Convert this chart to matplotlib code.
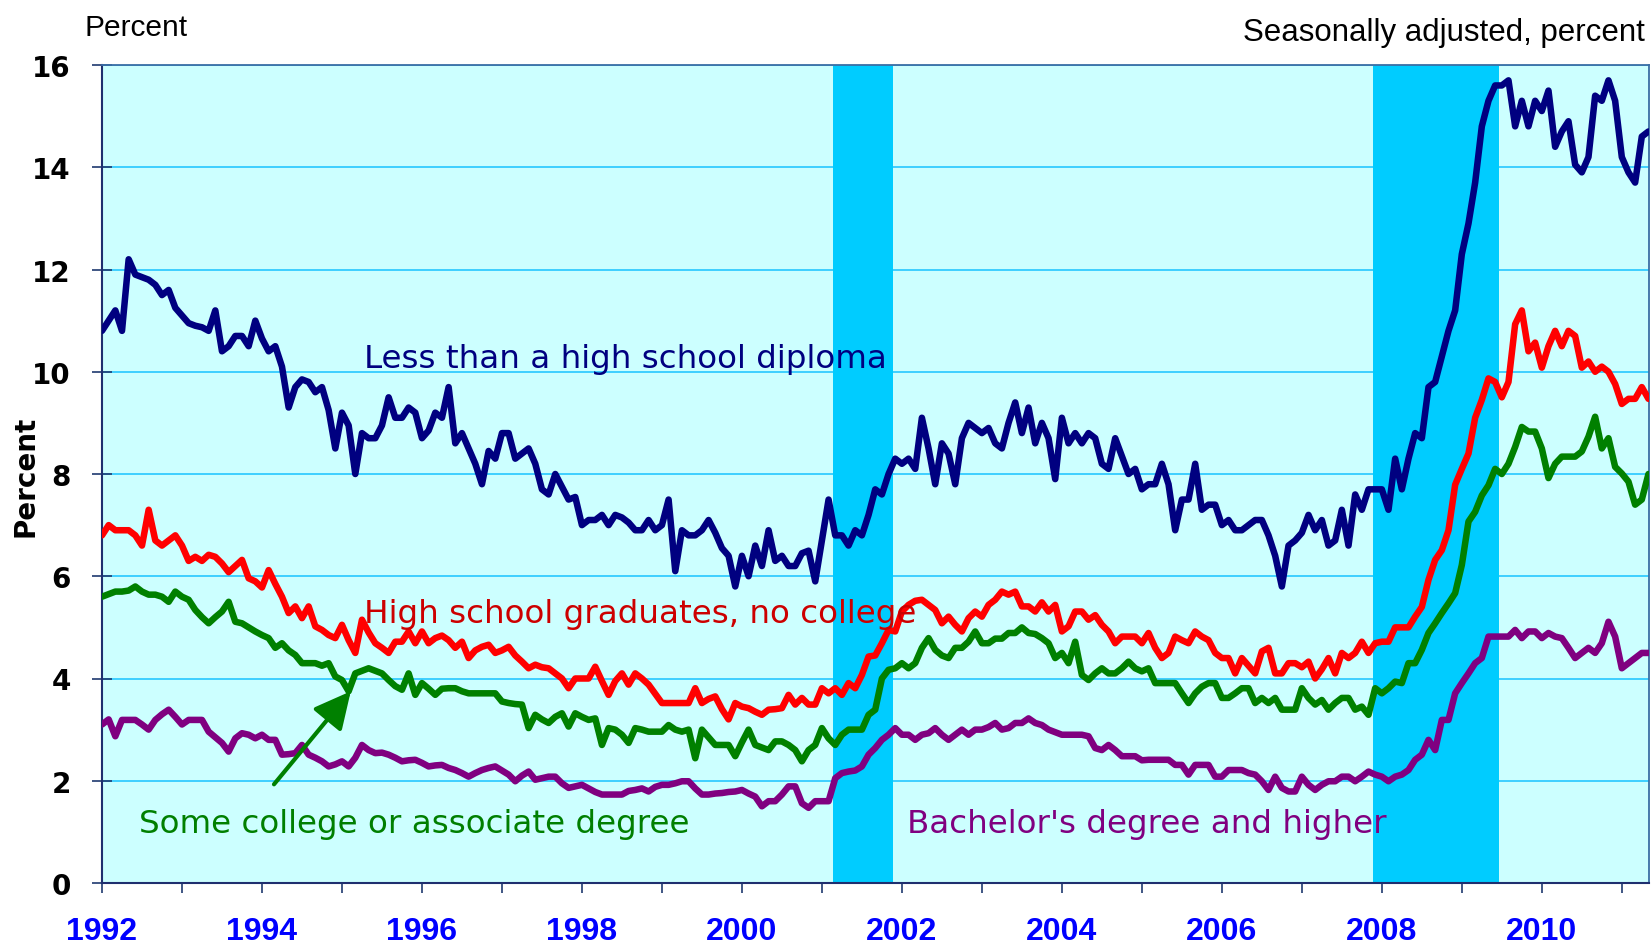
import numpy as np
import matplotlib
matplotlib.use("Agg")
import matplotlib.pyplot as plt

# ---------------- data (monthly, Jan 1992 - May 2011) ----------------
start_year = 1992
less_than_hs = [
    10.8, 11.0, 11.2, 10.8, 12.2, 11.9, 11.85, 11.8, 11.7, 11.5, 11.6, 11.25,
    11.1, 10.95, 10.9, 10.87, 10.8, 11.2, 10.4, 10.5, 10.7, 10.7, 10.5, 11.0,
    10.65, 10.4, 10.5, 10.1, 9.3, 9.7, 9.85, 9.8, 9.6, 9.7, 9.25, 8.5,
    9.2, 8.95, 8.0, 8.8, 8.7, 8.7, 8.95, 9.5, 9.1, 9.1, 9.3, 9.2,
    8.7, 8.85, 9.2, 9.1, 9.7, 8.6, 8.8, 8.5, 8.2, 7.8, 8.45, 8.3,
    8.8, 8.8, 8.3, 8.4, 8.5, 8.2, 7.7, 7.6, 8.0, 7.75, 7.5, 7.55,
    7.0, 7.1, 7.1, 7.2, 7.0, 7.2, 7.15, 7.05, 6.9, 6.9, 7.1, 6.9,
    7.0, 7.5, 6.1, 6.9, 6.8, 6.8, 6.9, 7.1, 6.85, 6.55, 6.4, 5.8,
    6.4, 6.0, 6.6, 6.2, 6.9, 6.3, 6.4, 6.2, 6.2, 6.45, 6.5, 5.9,
    6.7, 7.5, 6.8, 6.8, 6.6, 6.9, 6.8, 7.2, 7.7, 7.6, 8.0, 8.3,
    8.2, 8.3, 8.1, 9.1, 8.5, 7.8, 8.6, 8.4, 7.8, 8.7, 9.0, 8.9,
    8.8, 8.9, 8.6, 8.5, 9.0, 9.4, 8.8, 9.3, 8.6, 9.0, 8.7, 7.9,
    9.1, 8.6, 8.8, 8.6, 8.8, 8.7, 8.2, 8.1, 8.7, 8.35, 8.0, 8.1,
    7.7, 7.8, 7.8, 8.2, 7.8, 6.9, 7.5, 7.5, 8.2, 7.3, 7.4, 7.4,
    7.0, 7.1, 6.9, 6.9, 7.0, 7.1, 7.1, 6.8, 6.4, 5.8, 6.6, 6.7,
    6.85, 7.2, 6.9, 7.1, 6.6, 6.7, 7.3, 6.6, 7.6, 7.3, 7.7, 7.7,
    7.7, 7.3, 8.3, 7.7, 8.3, 8.8, 8.7, 9.7, 9.8, 10.3, 10.8, 11.2,
    12.3, 12.9, 13.7, 14.8, 15.3, 15.6, 15.6, 15.7, 14.8, 15.3, 14.8, 15.3,
    15.1, 15.5, 14.4, 14.7, 14.9, 14.05, 13.9, 14.2, 15.4, 15.3, 15.7, 15.3,
    14.2, 13.9, 13.7, 14.6, 14.7,
]
hs_grads = [
    6.8, 7.0, 6.9, 6.9, 6.9, 6.8, 6.6, 7.3, 6.7, 6.6, 6.7, 6.8,
    6.6, 6.3, 6.38, 6.3, 6.42, 6.38, 6.25, 6.08, 6.2, 6.32, 5.96, 5.9,
    5.78, 6.12, 5.85, 5.6, 5.28, 5.41, 5.18, 5.41, 5.02, 4.95, 4.85, 4.79,
    5.05, 4.75, 4.5, 5.15, 4.9, 4.69, 4.6, 4.5, 4.72, 4.72, 4.92, 4.69,
    4.92, 4.69, 4.79, 4.84, 4.75, 4.6, 4.72, 4.4, 4.55, 4.62, 4.66, 4.5,
    4.55, 4.62, 4.45, 4.33, 4.2, 4.27, 4.22, 4.2, 4.1, 4.0, 3.81, 4.0,
    4.0, 4.0, 4.23, 3.95, 3.68, 3.95, 4.1, 3.88, 4.1, 4.0, 3.88, 3.7,
    3.52, 3.52, 3.52, 3.52, 3.52, 3.81, 3.52, 3.6, 3.65, 3.4, 3.2, 3.52,
    3.45, 3.42, 3.35, 3.29, 3.39, 3.4, 3.42, 3.68, 3.49, 3.62, 3.49, 3.49,
    3.81, 3.71, 3.81, 3.68, 3.91, 3.81, 4.07, 4.43, 4.45, 4.69, 4.95, 4.92,
    5.31, 5.44, 5.52, 5.54, 5.44, 5.34, 5.08, 5.21, 5.05, 4.92, 5.18, 5.31,
    5.21, 5.44, 5.54, 5.7, 5.64, 5.7, 5.41, 5.41, 5.31, 5.49, 5.31, 5.44,
    4.92, 5.02, 5.31, 5.31, 5.15, 5.24, 5.05, 4.92, 4.69, 4.82, 4.82, 4.82,
    4.69, 4.89, 4.6, 4.4, 4.5, 4.82, 4.75, 4.69, 4.92, 4.82, 4.75, 4.5,
    4.4, 4.4, 4.1, 4.4, 4.25, 4.1, 4.53, 4.6, 4.1, 4.1, 4.3, 4.3,
    4.22, 4.33, 4.0, 4.18, 4.4, 4.1, 4.5, 4.4, 4.5, 4.72, 4.5, 4.69,
    4.72, 4.72, 5.0, 5.0, 5.0, 5.21, 5.4, 5.93, 6.32, 6.51, 6.9, 7.79,
    8.1, 8.4, 9.1, 9.45, 9.87, 9.8, 9.5, 9.8, 10.93, 11.2, 10.4, 10.57,
    10.08, 10.5, 10.8, 10.5, 10.8, 10.7, 10.08, 10.2, 10.0, 10.1, 10.0, 9.76,
    9.37, 9.47, 9.47, 9.7, 9.47,
]
some_college = [
    5.6, 5.65, 5.7, 5.7, 5.72, 5.8, 5.7, 5.64, 5.64, 5.6, 5.5, 5.7,
    5.6, 5.54, 5.34, 5.2, 5.08, 5.2, 5.31, 5.5, 5.11, 5.08, 5.0, 4.92,
    4.85, 4.79, 4.6, 4.69, 4.55, 4.46, 4.3, 4.3, 4.3, 4.25, 4.3, 4.04,
    3.97, 3.75, 4.1, 4.15, 4.2, 4.15, 4.1, 3.97, 3.85, 3.78, 4.1, 3.68,
    3.91, 3.8, 3.68, 3.8, 3.81, 3.81, 3.75, 3.71, 3.71, 3.71, 3.71, 3.71,
    3.55, 3.52, 3.5, 3.49, 3.03, 3.29, 3.2, 3.13, 3.25, 3.32, 3.06, 3.32,
    3.25, 3.19, 3.22, 2.7, 3.03, 3.0, 2.9, 2.74, 3.03, 3.0, 2.96, 2.96,
    2.96, 3.09, 3.0, 2.96, 3.0, 2.44, 3.0, 2.85, 2.7, 2.7, 2.7, 2.48,
    2.75, 3.0, 2.7, 2.65, 2.6, 2.77, 2.77, 2.7, 2.6, 2.38, 2.6, 2.7,
    3.03, 2.83, 2.7, 2.9, 3.0, 3.0, 3.0, 3.29, 3.39, 4.0, 4.17, 4.2,
    4.3, 4.2, 4.3, 4.6, 4.79, 4.56, 4.45, 4.4, 4.6, 4.6, 4.72, 4.92,
    4.69, 4.69, 4.78, 4.78, 4.89, 4.89, 5.0, 4.89, 4.87, 4.79, 4.69, 4.4,
    4.5, 4.3, 4.72, 4.07, 3.97, 4.1, 4.2, 4.1, 4.1, 4.2, 4.33, 4.2,
    4.14, 4.2, 3.91, 3.91, 3.91, 3.91, 3.71, 3.52, 3.71, 3.84, 3.91, 3.91,
    3.62, 3.62, 3.71, 3.81, 3.81, 3.52, 3.62, 3.52, 3.62, 3.39, 3.39, 3.39,
    3.81, 3.62, 3.49, 3.58, 3.39, 3.52, 3.62, 3.62, 3.39, 3.45, 3.29, 3.81,
    3.71, 3.81, 3.94, 3.91, 4.3, 4.3, 4.56, 4.89, 5.08, 5.28, 5.47, 5.67,
    6.22, 7.07, 7.26, 7.58, 7.78, 8.1, 8.0, 8.2, 8.53, 8.92, 8.83, 8.83,
    8.5, 7.92, 8.2, 8.34, 8.34, 8.34, 8.44, 8.73, 9.12, 8.5, 8.7, 8.14,
    8.01, 7.85, 7.4, 7.5, 8.0,
]
bachelors = [
    3.1, 3.2, 2.87, 3.19, 3.19, 3.19, 3.1, 3.0, 3.19, 3.3, 3.39, 3.25,
    3.1, 3.19, 3.19, 3.19, 2.96, 2.85, 2.74, 2.57, 2.83, 2.93, 2.9, 2.83,
    2.9, 2.8, 2.8, 2.51, 2.52, 2.54, 2.7, 2.51, 2.45, 2.38, 2.28, 2.32,
    2.38, 2.28, 2.45, 2.7, 2.6, 2.54, 2.55, 2.51, 2.45, 2.38, 2.4, 2.41,
    2.35, 2.28, 2.3, 2.31, 2.25, 2.21, 2.15, 2.08, 2.15, 2.21, 2.25, 2.28,
    2.2, 2.12, 1.99, 2.1, 2.18, 2.02, 2.05, 2.08, 2.08, 1.95, 1.86, 1.89,
    1.92, 1.85, 1.78, 1.73, 1.73, 1.73, 1.73, 1.8, 1.82, 1.85, 1.79, 1.88,
    1.92, 1.92, 1.95, 1.99, 1.99, 1.85, 1.73, 1.73, 1.75, 1.76, 1.78, 1.79,
    1.82, 1.75, 1.69, 1.5, 1.6, 1.6, 1.73, 1.89, 1.89, 1.56, 1.47, 1.6,
    1.6, 1.6, 2.05, 2.15, 2.18, 2.2, 2.28, 2.51, 2.64, 2.8, 2.9, 3.03,
    2.9, 2.9, 2.8, 2.9, 2.93, 3.03, 2.9, 2.8, 2.9, 3.0, 2.9, 3.0,
    3.0, 3.05, 3.13, 3.0, 3.03, 3.13, 3.13, 3.22, 3.13, 3.09, 3.0, 2.95,
    2.9, 2.9, 2.9, 2.9, 2.87, 2.64, 2.6, 2.7, 2.6, 2.48, 2.48, 2.48,
    2.4, 2.41, 2.41, 2.41, 2.41, 2.31, 2.31, 2.12, 2.31, 2.31, 2.31, 2.08,
    2.08, 2.21, 2.21, 2.21, 2.15, 2.12, 1.99, 1.82, 2.08, 1.86, 1.79, 1.79,
    2.08, 1.92, 1.82, 1.92, 1.99, 1.99, 2.08, 2.08, 1.99, 2.08, 2.18, 2.12,
    2.08, 1.99, 2.08, 2.12, 2.21, 2.41, 2.51, 2.8, 2.6, 3.19, 3.19, 3.71,
    3.91, 4.1, 4.3, 4.4, 4.82, 4.82, 4.82, 4.82, 4.95, 4.79, 4.92, 4.92,
    4.79, 4.89, 4.82, 4.79, 4.6, 4.4, 4.5, 4.6, 4.5, 4.69, 5.11, 4.82,
    4.2, 4.3, 4.4, 4.5, 4.5,
]
recessions = [(2001.14, 2001.89), (2007.89, 2009.47)]
series_labels = ["Less than a high school diploma", "High school graduates, no college",
                 "Some college or associate degree", "Bachelor's degree and higher"]
line_colors = ["#000080", "#FF0000", "#008000", "#800080"]
text_colors = ["#000080", "#CC0000", "#007F00", "#800080"]
label_pos = [(1995.27, 10.1), (1995.28, 5.1), (1992.46, 1.0), (2002.07, 1.0)]
year_ticks = list(range(1992, 2012, 2))
minor_years = list(range(1993, 2012, 2))
y_ticks = list(range(0, 17, 2))

# ---------------- figure ----------------
W, H = 1651, 945
fig = plt.figure(figsize=(W / 100, H / 100), dpi=100)
fig.patch.set_facecolor("white")
ax = fig.add_axes([102 / W, 1 - 884 / H, 1547 / W, (884 - 66) / H])
ax.set_facecolor("#CCFFFF")

t = start_year + np.arange(len(less_than_hs)) / 12.0

for a, b in recessions:
    ax.axvspan(a, b, facecolor="#00CCFF", edgecolor="none", zorder=1)

for vals, col in zip([less_than_hs, hs_grads, some_college, bachelors], line_colors):
    ax.plot(t[:len(vals)], vals, color=col, lw=4.7, solid_joinstyle="round",
            solid_capstyle="round", zorder=3)

for lab, col, (x, y) in zip(series_labels, text_colors, label_pos):
    ax.text(x, y, lab, color=col, fontsize=23.4, family="DejaVu Sans",
            ha="left", va="baseline", zorder=4)

ax.annotate("", xy=(1995.11, 3.75), xytext=(1994.15, 1.93),
            arrowprops=dict(arrowstyle="-|>,head_length=0.9,head_width=0.45",
                            color="#008000", lw=3, shrinkA=0, shrinkB=0,
                            mutation_scale=25),
            zorder=4)

ax.set_xlim(1992, 2011.34)
ax.set_ylim(0, 16)
ax.set_yticks(y_ticks)
ax.set_xticks(year_ticks)
ax.set_xticks(minor_years, minor=True)
ax.set_xticklabels([str(y) for y in year_ticks])

ax.yaxis.grid(True, color="#33CCFF", lw=1.3)
ax.set_axisbelow(True)

ax.tick_params(axis="y", direction="inout", length=15, width=1.2, color="#1F3A6F",
               labelsize=20, pad=15, labelcolor="black")
ax.tick_params(axis="x", which="both", direction="out", length=7, width=1.2,
               color="#1F3A6F", pad=17)
for lbl in ax.get_yticklabels():
    lbl.set_fontweight("bold")
    lbl.set_family("DejaVu Sans")
for lbl in ax.get_xticklabels():
    lbl.set_fontweight("bold")
    lbl.set_family("Liberation Sans")
    lbl.set_fontsize(23)
    lbl.set_color("#0000FF")

for side in ["left", "bottom"]:
    ax.spines[side].set_color("#1F2F6F")
    ax.spines[side].set_linewidth(1.5)
for side in ["top", "right"]:
    ax.spines[side].set_color("#3A6EA5")
    ax.spines[side].set_linewidth(1.3)

fig.text(84 / W, 1 - 36 / H, "Percent", fontsize=21.5, family="Liberation Sans",
         ha="left", va="baseline")
fig.text(1645 / W, 1 - 41.5 / H, "Seasonally adjusted, percent", fontsize=22.5,
         family="Liberation Sans", ha="right", va="baseline")
fig.text(26 / W, 1 - 476 / H, "Percent", fontsize=20, fontweight="bold",
         family="DejaVu Sans", rotation=90, ha="center", va="center")

fig.savefig("out.png", dpi=100, facecolor="white")
